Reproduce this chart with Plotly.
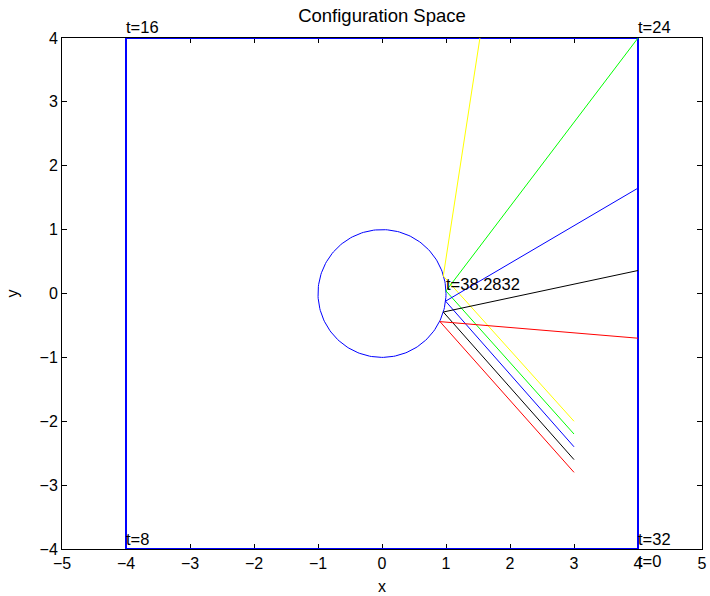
import numpy as np
import plotly.graph_objects as go

# Boundary path traced by the particle (t = 0 .. 32)
boundary_x = [4, -4, -4, 4, 4]
boundary_y = [-4, -4, 4, 4, -4]

# Unit circle (t = 32 .. 32 + 2*pi)
circle_r = 1.0

# Rays: start at x = 3, hit the circle, reflect to the boundary
ray_colors = ["#ffff00", "#00ff00", "#0000ff", "#000000", "#ff0000"]
ray_start_x = [3, 3, 3, 3, 3]
ray_start_y = [-2.0, -2.2, -2.4, -2.6, -2.8]
ray_hit_x = [0.958, 1.0, 0.993, 0.958, 0.906]
ray_hit_y = [0.274, 0.04, -0.12, -0.29, -0.44]
ray_end_x = [1.53, 4, 4, 4, 4]
ray_end_y = [4, 4, 1.65, 0.36, -0.70]

# Time labels (anchored at the path points they mark)
label_text = ["t=0", "t=8", "t=16", "t=24", "t=32", "t=38.2832"]
label_x = [4, -4, -4, 4, 4, 1]
label_y = [-4, -4, 4, 4, -4, 0]
label_shift = [-12, 10, 11, 11, 10, 10]   # vertical pixel offset (style)

x_ticks = list(range(-5, 6))
y_ticks = list(range(-4, 5))

FONT = "Liberation Sans, Arial, Helvetica, sans-serif"

fig = go.Figure()

fig.add_trace(go.Scatter(x=boundary_x, y=boundary_y, mode="lines",
                         line=dict(color="#0000ff", width=2), showlegend=False,
                         cliponaxis=False))

theta = np.linspace(0, 2 * np.pi, 200)
fig.add_trace(go.Scatter(x=circle_r * np.cos(theta), y=circle_r * np.sin(theta),
                         mode="lines", line=dict(color="#0000ff", width=1),
                         showlegend=False))

for c, sx, sy, hx, hy, ex, ey in zip(ray_colors, ray_start_x, ray_start_y,
                                     ray_hit_x, ray_hit_y, ray_end_x, ray_end_y):
    fig.add_trace(go.Scatter(x=[sx, hx, ex], y=[sy, hy, ey], mode="lines",
                             line=dict(color=c, width=1), showlegend=False))

for t, x, y, s in zip(label_text, label_x, label_y, label_shift):
    fig.add_annotation(x=x, y=y, text=t, showarrow=False, xanchor="left",
                       yanchor="middle", xshift=-2, yshift=s,
                       font=dict(size=16.5, color="black", family=FONT))

axis_common = dict(showgrid=False, zeroline=False, showline=True, linecolor="black",
                   linewidth=1, mirror="allticks", ticks="inside", ticklen=5,
                   tickcolor="black", tickfont=dict(size=16, color="black", family=FONT),
                   layer="below traces", automargin=False)

fig.update_xaxes(range=[-5, 5], tickvals=x_ticks,
                 ticktext=[str(v).replace("-", "\u2212") for v in x_ticks],
                 title=dict(text="x", font=dict(size=16, color="black", family=FONT), standoff=9),
                 **axis_common)
fig.update_yaxes(range=[-4, 4], tickvals=y_ticks,
                 ticktext=[str(v).replace("-", "\u2212") for v in y_ticks],
                 title=dict(text="y", font=dict(size=16, color="black", family=FONT), standoff=16),
                 **axis_common)

fig.update_layout(
    width=710, height=596, autosize=False,
    margin=dict(l=62, r=8, t=38, b=47, pad=0),
    paper_bgcolor="white", plot_bgcolor="white",
    font=dict(family=FONT, color="black"),
    title=dict(text="Configuration Space", x=0.5, xanchor="center",
               xref="paper", y=1 - 16 / 596, yanchor="middle",
               font=dict(size=18.5, color="black", family=FONT)),
)

fig.write_html("out.html")
